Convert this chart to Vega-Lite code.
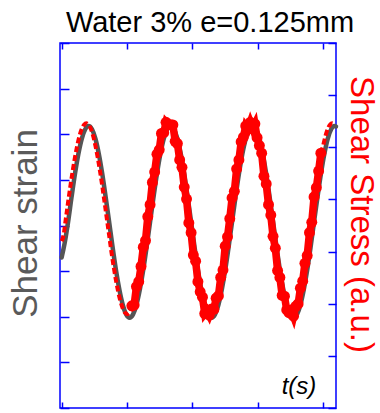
{
  "$schema": "https://vega.github.io/schema/vega-lite/v6.json",
  "autosize": {"type": "none"},
  "width": 276,
  "height": 365,
  "padding": {"left": 60, "top": 43, "right": 44, "bottom": 5},
  "background": "white",
  "config": {
    "font": "Liberation Sans",
    "view": {"stroke": "#0000ff", "strokeWidth": 1.5},
    "axis": {"tickColor": "#0000ff", "tickWidth": 1.5, "labels": false, "domain": false, "grid": false, "titleFontWeight": "normal"}
  },
  "title": {"text": "Water 3% e=0.125mm", "fontSize": 29, "fontWeight": "normal", "color": "#000000", "anchor": "middle", "dx": 12, "dy": 30, "offset": 11, "baseline": "alphabetic"},
  "datasets": {
    "strain": [
      {"t": 0, "g": -0.7}, {"t": 0.047, "g": -0.38}, {"t": 0.099, "g": 0.08}, {"t": 0.152, "g": 0.624},
      {"t": 0.204, "g": 1.13}, {"t": 0.256, "g": 1.565}, {"t": 0.308, "g": 1.899}, {"t": 0.361, "g": 2.109},
      {"t": 0.413, "g": 2.18}, {"t": 0.465, "g": 2.109}, {"t": 0.518, "g": 1.899}, {"t": 0.57, "g": 1.565},
      {"t": 0.622, "g": 1.13}, {"t": 0.674, "g": 0.624}, {"t": 0.727, "g": 0.08}, {"t": 0.779, "g": -0.464},
      {"t": 0.831, "g": -0.97}, {"t": 0.884, "g": -1.405}, {"t": 0.936, "g": -1.739}, {"t": 0.988, "g": -1.949},
      {"t": 1.041, "g": -2.02}, {"t": 1.093, "g": -1.949}, {"t": 1.145, "g": -1.739}, {"t": 1.197, "g": -1.405},
      {"t": 1.25, "g": -0.97}, {"t": 1.302, "g": -0.464}, {"t": 1.354, "g": 0.08}, {"t": 1.407, "g": 0.624},
      {"t": 1.459, "g": 1.13}, {"t": 1.511, "g": 1.565}, {"t": 1.563, "g": 1.899}, {"t": 1.616, "g": 2.109},
      {"t": 1.668, "g": 2.18}, {"t": 1.72, "g": 2.109}, {"t": 1.773, "g": 1.899}, {"t": 1.825, "g": 1.565},
      {"t": 1.877, "g": 1.13}, {"t": 1.929, "g": 0.624}, {"t": 1.982, "g": 0.08}, {"t": 2.034, "g": -0.464},
      {"t": 2.086, "g": -0.97}, {"t": 2.139, "g": -1.405}, {"t": 2.191, "g": -1.739}, {"t": 2.243, "g": -1.949},
      {"t": 2.296, "g": -2.02}, {"t": 2.348, "g": -1.949}, {"t": 2.4, "g": -1.739}, {"t": 2.452, "g": -1.405},
      {"t": 2.505, "g": -0.97}, {"t": 2.557, "g": -0.464}, {"t": 2.609, "g": 0.08}, {"t": 2.662, "g": 0.624},
      {"t": 2.714, "g": 1.13}, {"t": 2.766, "g": 1.565}, {"t": 2.818, "g": 1.899}, {"t": 2.871, "g": 2.109},
      {"t": 2.923, "g": 2.18}, {"t": 2.975, "g": 2.109}, {"t": 3.028, "g": 1.899}, {"t": 3.08, "g": 1.565},
      {"t": 3.132, "g": 1.13}, {"t": 3.184, "g": 0.624}, {"t": 3.237, "g": 0.08}, {"t": 3.289, "g": -0.464},
      {"t": 3.341, "g": -0.97}, {"t": 3.394, "g": -1.405}, {"t": 3.446, "g": -1.739}, {"t": 3.498, "g": -1.949},
      {"t": 3.551, "g": -2.02}, {"t": 3.603, "g": -1.949}, {"t": 3.655, "g": -1.739}, {"t": 3.707, "g": -1.405},
      {"t": 3.76, "g": -0.97}, {"t": 3.812, "g": -0.464}, {"t": 3.864, "g": 0.08}, {"t": 3.917, "g": 0.624},
      {"t": 3.969, "g": 1.13}, {"t": 4.021, "g": 1.565}, {"t": 4.073, "g": 1.899}, {"t": 4.126, "g": 2.109},
      {"t": 4.178, "g": 2.18}, {"t": 4.2, "g": 2.17}
    ],
    "stress": [
      {"t": 0, "s": -0.3, "segment": "d1"}, {"t": 0.029, "s": -0.188, "segment": "d1"}, {"t": 0.064, "s": 0.13, "segment": "d1"},
      {"t": 0.099, "s": 0.448, "segment": "d1"}, {"t": 0.134, "s": 0.756, "segment": "d1"}, {"t": 0.169, "s": 1.045, "segment": "d1"},
      {"t": 0.204, "s": 1.307, "segment": "d1"}, {"t": 0.239, "s": 1.532, "segment": "d1"}, {"t": 0.273, "s": 1.715, "segment": "d1"},
      {"t": 0.308, "s": 1.85, "segment": "d1"}, {"t": 0.343, "s": 1.933, "segment": "d1"}, {"t": 0.378, "s": 1.96, "segment": "d1"},
      {"t": 0.413, "s": 1.933, "segment": "d1"}, {"t": 0.448, "s": 1.85, "segment": "d1"}, {"t": 0.483, "s": 1.715, "segment": "d1"},
      {"t": 0.517, "s": 1.532, "segment": "d1"}, {"t": 0.552, "s": 1.307, "segment": "d1"}, {"t": 0.587, "s": 1.045, "segment": "d1"},
      {"t": 0.622, "s": 0.756, "segment": "d1"}, {"t": 0.657, "s": 0.448, "segment": "d1"}, {"t": 0.692, "s": 0.13, "segment": "d1"},
      {"t": 0.727, "s": -0.188, "segment": "d1"}, {"t": 0.761, "s": -0.496, "segment": "d1"}, {"t": 0.796, "s": -0.785, "segment": "d1"},
      {"t": 0.831, "s": -1.047, "segment": "d1"}, {"t": 0.866, "s": -1.272, "segment": "d1"}, {"t": 0.901, "s": -1.455, "segment": "d1"},
      {"t": 0.936, "s": -1.59, "segment": "d1"}, {"t": 0.971, "s": -1.673, "segment": "d1"}, {"t": 1.005, "s": -1.7, "segment": "d1"},
      {"t": 1.04, "s": -1.673, "segment": "d1"}, {"t": 1.075, "s": -1.59, "segment": "d1"},
      {"t": 1.075, "s": -1.54, "segment": "blob"}, {"t": 1.11, "s": -1.525, "segment": "blob"}, {"t": 1.145, "s": -1.172, "segment": "blob"},
      {"t": 1.18, "s": -1.077, "segment": "blob"}, {"t": 1.215, "s": -0.785, "segment": "blob"}, {"t": 1.25, "s": -0.416, "segment": "blob"},
      {"t": 1.284, "s": -0.288, "segment": "blob"}, {"t": 1.319, "s": 0.17, "segment": "blob"}, {"t": 1.354, "s": 0.398, "segment": "blob"},
      {"t": 1.389, "s": 0.826, "segment": "blob"}, {"t": 1.424, "s": 1.025, "segment": "blob"}, {"t": 1.459, "s": 1.367, "segment": "blob"},
      {"t": 1.494, "s": 1.452, "segment": "blob"}, {"t": 1.528, "s": 1.765, "segment": "blob"}, {"t": 1.563, "s": 1.78, "segment": "blob"},
      {"t": 1.598, "s": 1.98, "segment": "blob"}, {"t": 1.633, "s": 1.93, "segment": "blob"}, {"t": 1.668, "s": 1.933, "segment": "blob"},
      {"t": 1.703, "s": 1.93, "segment": "blob"}, {"t": 1.738, "s": 1.615, "segment": "blob"}, {"t": 1.772, "s": 1.572, "segment": "blob"},
      {"t": 1.807, "s": 1.257, "segment": "blob"}, {"t": 1.842, "s": 1.115, "segment": "blob"}, {"t": 1.877, "s": 0.736, "segment": "blob"},
      {"t": 1.912, "s": 0.508, "segment": "blob"}, {"t": 1.947, "s": 0.05, "segment": "blob"}, {"t": 1.982, "s": -0.138, "segment": "blob"},
      {"t": 2.016, "s": -0.566, "segment": "blob"}, {"t": 2.051, "s": -0.685, "segment": "blob"}, {"t": 2.086, "s": -1.077, "segment": "blob"},
      {"t": 2.121, "s": -1.272, "segment": "blob"}, {"t": 2.156, "s": -1.375, "segment": "blob"}, {"t": 2.191, "s": -1.69, "segment": "blob"},
      {"t": 2.226, "s": -1.633, "segment": "blob"}, {"t": 2.26, "s": -1.72, "segment": "blob"}, {"t": 2.295, "s": -1.603, "segment": "blob"},
      {"t": 2.33, "s": -1.61, "segment": "blob"}, {"t": 2.365, "s": -1.395, "segment": "blob"}, {"t": 2.4, "s": -1.352, "segment": "blob"},
      {"t": 2.435, "s": -0.997, "segment": "blob"}, {"t": 2.47, "s": -0.855, "segment": "blob"}, {"t": 2.504, "s": -0.396, "segment": "blob"},
      {"t": 2.539, "s": -0.218, "segment": "blob"}, {"t": 2.574, "s": 0.13, "segment": "blob"}, {"t": 2.609, "s": 0.528, "segment": "blob"},
      {"t": 2.644, "s": 0.656, "segment": "blob"}, {"t": 2.679, "s": 1.085, "segment": "blob"}, {"t": 2.714, "s": 1.257, "segment": "blob"},
      {"t": 2.748, "s": 1.602, "segment": "blob"}, {"t": 2.783, "s": 1.695, "segment": "blob"}, {"t": 2.818, "s": 1.91, "segment": "blob"},
      {"t": 2.853, "s": 1.853, "segment": "blob"}, {"t": 2.888, "s": 1.98, "segment": "blob"}, {"t": 2.923, "s": 1.863, "segment": "blob"},
      {"t": 2.958, "s": 1.95, "segment": "blob"}, {"t": 2.992, "s": 1.685, "segment": "blob"}, {"t": 3.027, "s": 1.532, "segment": "blob"},
      {"t": 3.062, "s": 1.387, "segment": "blob"}, {"t": 3.097, "s": 0.945, "segment": "blob"}, {"t": 3.132, "s": 0.796, "segment": "blob"},
      {"t": 3.167, "s": 0.398, "segment": "blob"}, {"t": 3.202, "s": 0.2, "segment": "blob"}, {"t": 3.236, "s": -0.208, "segment": "blob"},
      {"t": 3.271, "s": -0.436, "segment": "blob"}, {"t": 3.306, "s": -0.865, "segment": "blob"}, {"t": 3.341, "s": -0.997, "segment": "blob"},
      {"t": 3.376, "s": -1.342, "segment": "blob"}, {"t": 3.411, "s": -1.355, "segment": "blob"}, {"t": 3.446, "s": -1.62, "segment": "blob"},
      {"t": 3.48, "s": -1.673, "segment": "blob"}, {"t": 3.515, "s": -1.62, "segment": "blob"}, {"t": 3.55, "s": -1.74, "segment": "blob"},
      {"t": 3.585, "s": -1.55, "segment": "blob"}, {"t": 3.62, "s": -1.505, "segment": "blob"}, {"t": 3.655, "s": -1.202, "segment": "blob"},
      {"t": 3.69, "s": -1.067, "segment": "blob"}, {"t": 3.724, "s": -0.725, "segment": "blob"}, {"t": 3.759, "s": -0.576, "segment": "blob"},
      {"t": 3.794, "s": -0.138, "segment": "blob"}, {"t": 3.829, "s": 0.06, "segment": "blob"}, {"t": 3.864, "s": 0.548, "segment": "blob"},
      {"t": 3.899, "s": 0.726, "segment": "blob"}, {"t": 3.934, "s": 1.045, "segment": "blob"}, {"t": 3.968, "s": 1.387, "segment": "blob"},
      {"t": 3.968, "s": 1.387, "segment": "d2"}, {"t": 4.003, "s": 1.532, "segment": "d2"}, {"t": 4.038, "s": 1.715, "segment": "d2"},
      {"t": 4.073, "s": 1.85, "segment": "d2"}, {"t": 4.108, "s": 1.933, "segment": "d2"}, {"t": 4.143, "s": 1.96, "segment": "d2"},
      {"t": 4.178, "s": 1.933, "segment": "d2"}
    ]
  },
  "layer": [
    {
      "data": {"name": "strain"},
      "mark": {"type": "line", "color": "#555555", "strokeWidth": 4.5, "interpolate": "monotone", "strokeCap": "round"},
      "encoding": {
        "x": {"field": "t", "type": "quantitative", "scale": {"domain": [-0.025, 4.2], "nice": false, "zero": false},
          "axis": {"orient": "bottom", "values": [0, 1, 2, 3, 4], "tickSize": -6, "title": "t(s)", "titleFontStyle": "italic", "titleFontSize": 24, "titleColor": "#000000", "titleX": 238.5, "titleY": -15, "titleAlign": "center", "titleBaseline": "alphabetic", "titleAngle": 0}},
        "y": {"field": "g", "type": "quantitative", "scale": {"domain": [-4, 4], "nice": false, "zero": false},
          "axis": {"orient": "left", "values": [-4, -3, -2, -1, 0, 1, 2, 3, 4], "tickSize": -9, "title": "Shear strain", "titleColor": "#5a5a5a", "titleFontSize": 35, "titleX": -24, "titleY": 180, "titleAngle": 270, "titleAlign": "center", "titleBaseline": "alphabetic"}}
      }
    },
    {
      "data": {"name": "stress"},
      "encoding": {
        "x": {"field": "t", "type": "quantitative", "scale": {"domain": [-0.025, 4.2], "nice": false, "zero": false},
          "axis": {"orient": "top", "values": [0, 1, 2, 3, 4], "tickSize": -6, "title": null}},
        "y": {"field": "s", "type": "quantitative", "scale": {"domain": [-3.5, 3.5], "nice": false, "zero": false},
          "axis": {"orient": "right", "values": [-3.5, -2.5, -1.5, -0.5, 0.5, 1.5, 2.5, 3.5], "tickSize": -8, "title": "Shear Stress (a.u.)", "titleColor": "#ff0000", "titleFontSize": 33, "titleX": 14, "titleY": 171, "titleAngle": 90, "titleAlign": "center", "titleBaseline": "alphabetic"}}
      },
      "layer": [
        {
          "transform": [{"filter": "datum.segment !== 'blob'"}],
          "mark": {"type": "line", "color": "#ff0000", "strokeWidth": 4, "strokeDash": [6, 3], "interpolate": "monotone"},
          "encoding": {"detail": {"field": "segment"}}
        },
        {
          "transform": [{"filter": "datum.segment === 'blob'"}],
          "mark": {"type": "line", "color": "#ff0000", "strokeWidth": 7.5},
          "encoding": {}
        },
        {
          "transform": [{"filter": "datum.segment === 'blob'"}],
          "mark": {"type": "circle", "color": "#ff0000", "size": 120, "opacity": 1},
          "encoding": {}
        }
      ]
    }
  ],
  "resolve": {"scale": {"y": "independent"}, "axis": {"x": "independent", "y": "independent"}}
}
